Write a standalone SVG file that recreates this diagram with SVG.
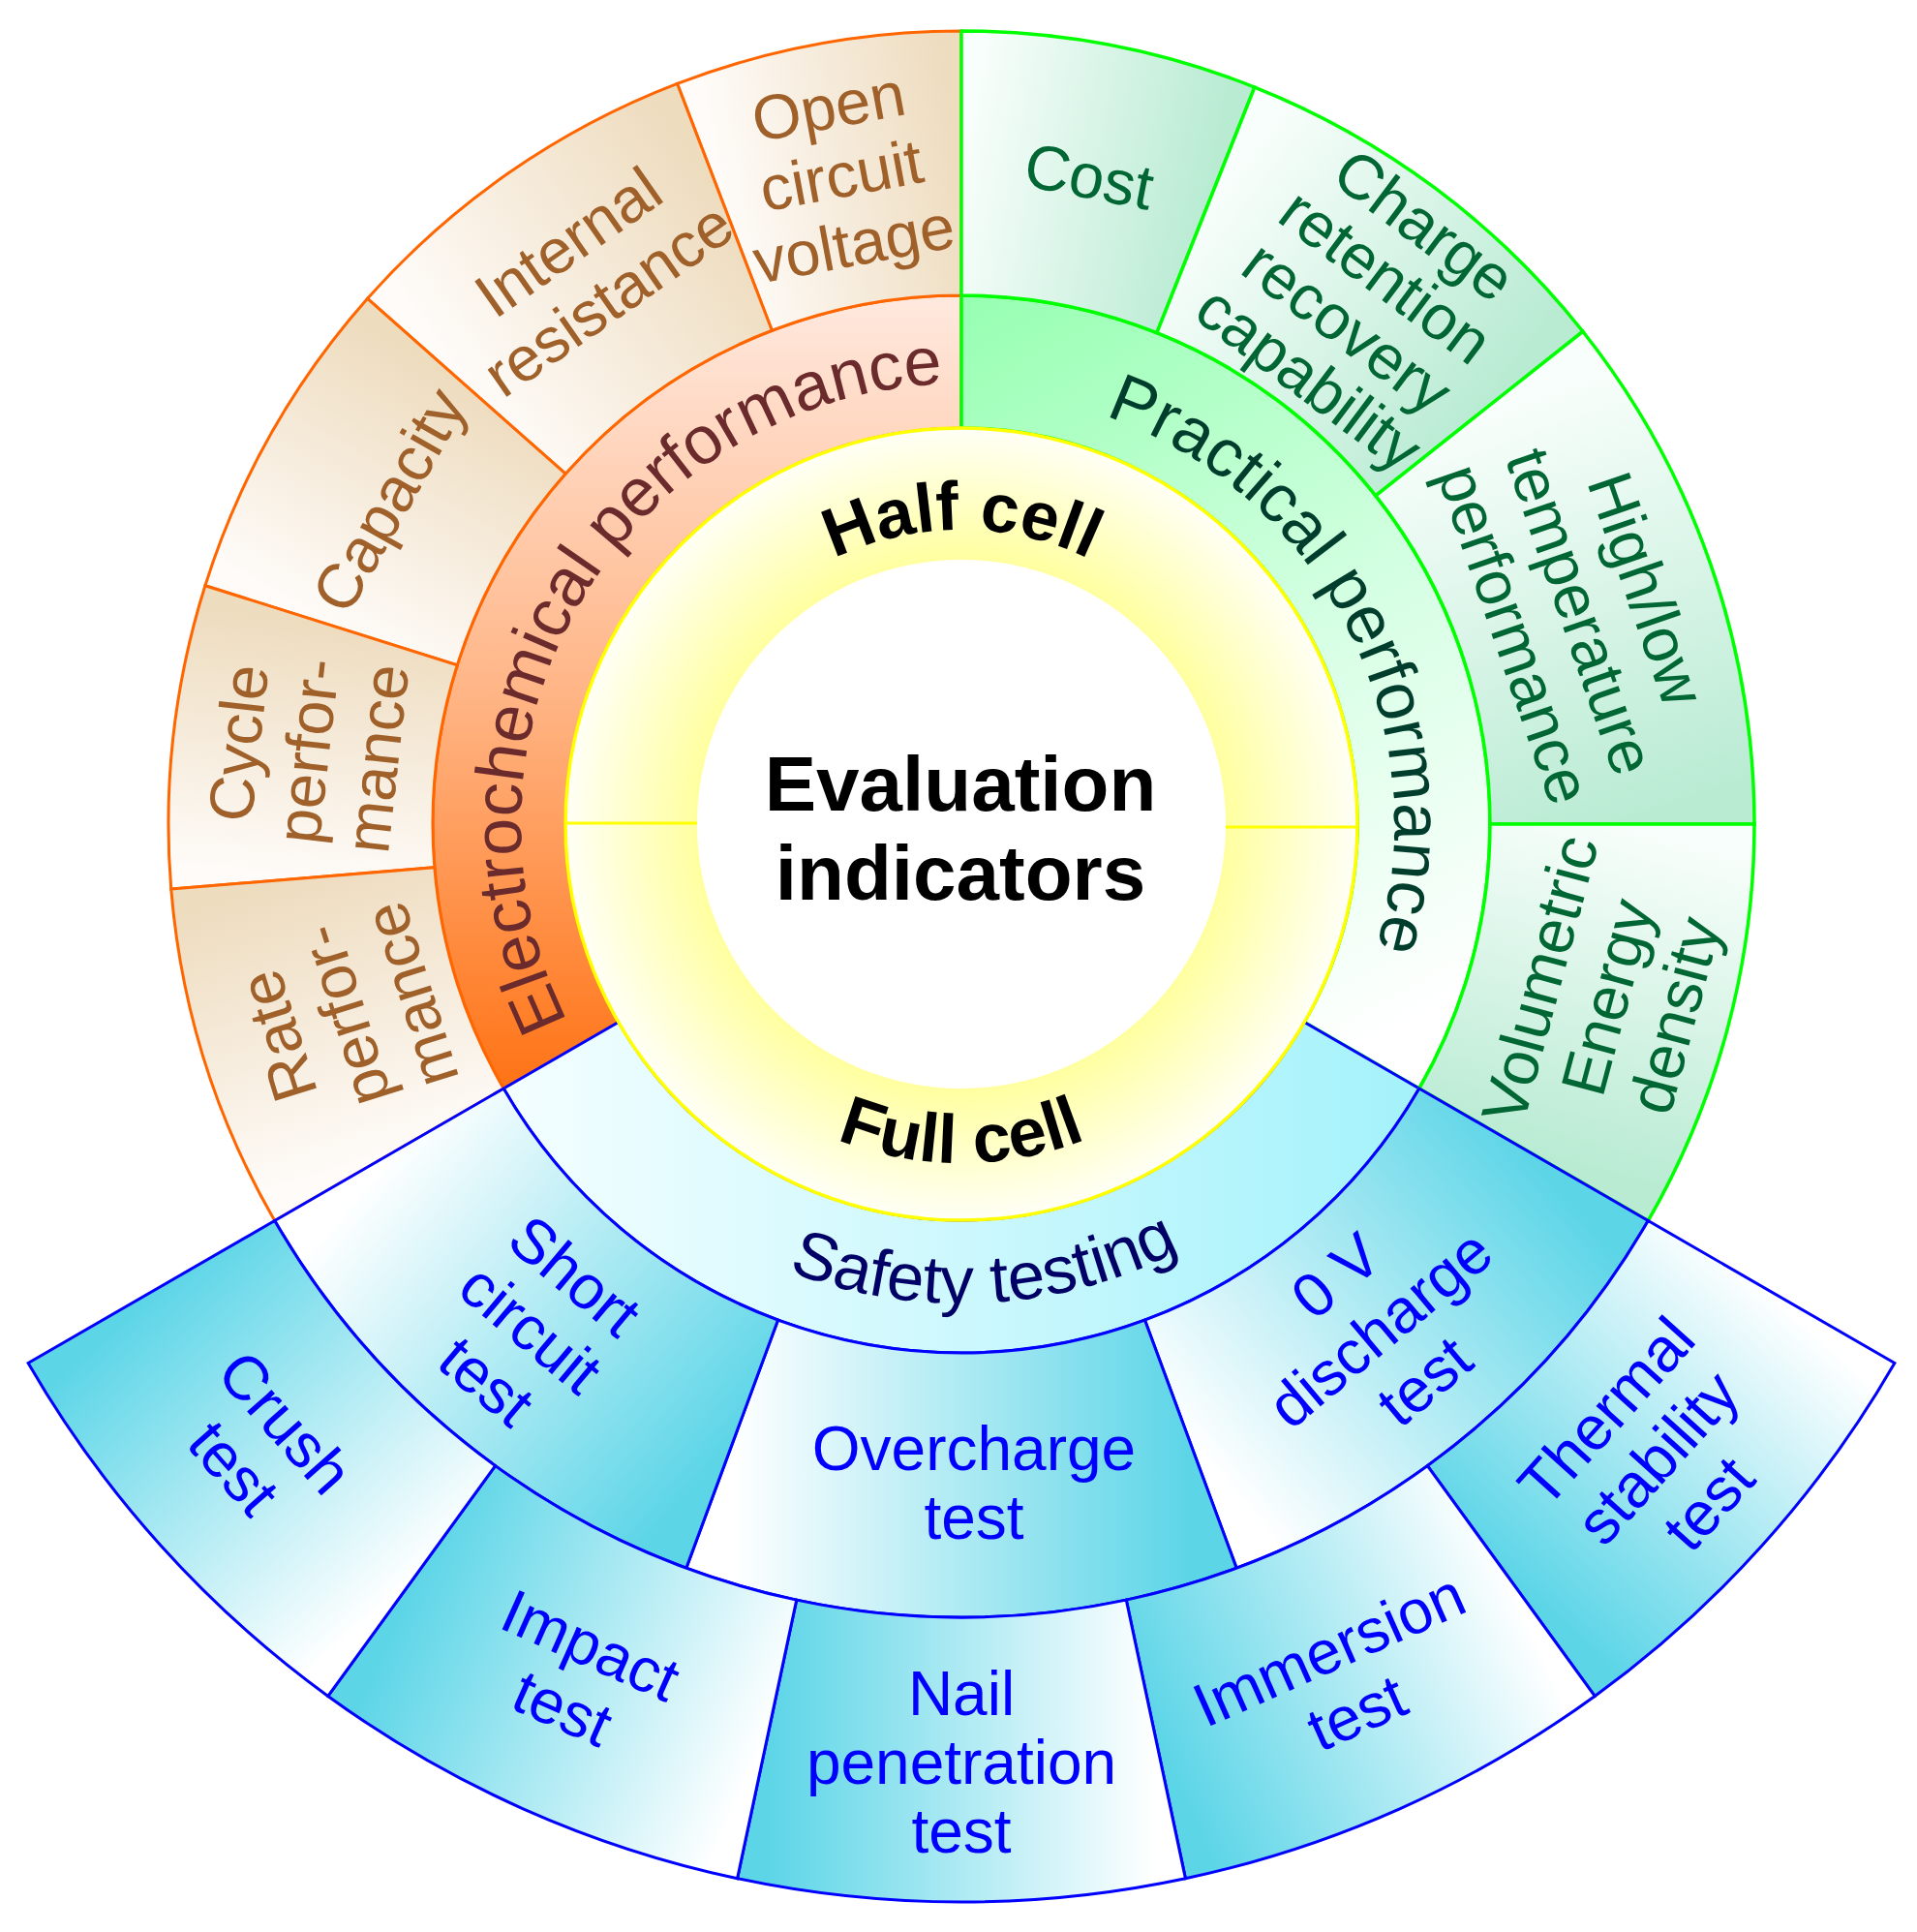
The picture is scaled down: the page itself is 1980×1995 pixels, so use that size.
<svg xmlns="http://www.w3.org/2000/svg" xmlns:xlink="http://www.w3.org/1999/xlink" width="1980" height="1995" viewBox="0 0 1980 1995">
<defs>
<style>
text { font-family: "Liberation Sans", Arial, Helvetica, sans-serif; }
.org { fill: #a0602a; font-size: 65px; text-anchor: middle; }
.grn { fill: #006633; font-size: 65px; text-anchor: middle; }
.blu { fill: #0000ff; font-size: 64px; text-anchor: middle; }
.cell-o { stroke: #ff6600; stroke-width: 3; }
.cell-g { stroke: #00ff00; stroke-width: 3.5; }
.cell-b { stroke: #0000ff; stroke-width: 3; }
.ring { font-size: 70px; }
.core { font-size: 71px; font-weight: bold; fill: #000; }
</style>
<linearGradient id="baseO"><stop offset="0" stop-color="#fefbf8"/><stop offset="1" stop-color="#eedcbf"/></linearGradient>
<linearGradient id="baseG"><stop offset="0" stop-color="#f8fefb"/><stop offset="1" stop-color="#b9ebd3"/></linearGradient>
<linearGradient id="baseC"><stop offset="0" stop-color="#5cd5e7"/><stop offset="1" stop-color="#ffffff"/></linearGradient>
<linearGradient id="baseW"><stop offset="0" stop-color="#ffffff"/><stop offset="1" stop-color="#5cd5e7"/></linearGradient>
<linearGradient id="o1" xlink:href="#baseO" gradientUnits="userSpaceOnUse" x1="748.59" y1="214.3" x2="993" y2="169"/>
<linearGradient id="o2" xlink:href="#baseO" gradientUnits="userSpaceOnUse" x1="482.21" y1="399.09" x2="748.59" y2="214.3"/>
<linearGradient id="o3" xlink:href="#baseO" gradientUnits="userSpaceOnUse" x1="342.57" y1="645.92" x2="482.21" y2="399.09"/>
<linearGradient id="o4" xlink:href="#baseO" gradientUnits="userSpaceOnUse" x1="313.29" y1="906.88" x2="342.57" y2="645.92"/>
<linearGradient id="o5" xlink:href="#baseO" gradientUnits="userSpaceOnUse" x1="402.37" y1="1192" x2="313.29" y2="906.88"/>
<linearGradient id="g1" xlink:href="#baseG" gradientUnits="userSpaceOnUse" x1="993" y1="169" x2="1245.17" y2="217.33"/>
<linearGradient id="g2" xlink:href="#baseG" gradientUnits="userSpaceOnUse" x1="1245.17" y1="217.33" x2="1527.48" y2="427.38"/>
<linearGradient id="g3" xlink:href="#baseG" gradientUnits="userSpaceOnUse" x1="1527.48" y1="427.38" x2="1675" y2="851"/>
<linearGradient id="g4" xlink:href="#baseG" gradientUnits="userSpaceOnUse" x1="1675" y1="851" x2="1583.63" y2="1192"/>
<linearGradient id="b1" xlink:href="#baseC" gradientUnits="userSpaceOnUse" x1="1583.63" y1="1192" x2="1229.61" y2="1490.64"/>
<linearGradient id="b2" xlink:href="#baseC" gradientUnits="userSpaceOnUse" x1="1229.61" y1="1490.64" x2="756.39" y2="1490.64"/>
<linearGradient id="b3" xlink:href="#baseC" gradientUnits="userSpaceOnUse" x1="756.39" y1="1490.64" x2="402.37" y2="1192"/>
<linearGradient id="c1" xlink:href="#baseW" gradientUnits="userSpaceOnUse" x1="1829.58" y1="1334" x2="1560.8" y2="1632.51"/>
<linearGradient id="c2" xlink:href="#baseW" gradientUnits="userSpaceOnUse" x1="1560.8" y1="1632.51" x2="1193.84" y2="1795.89"/>
<linearGradient id="c3" xlink:href="#baseW" gradientUnits="userSpaceOnUse" x1="1193.84" y1="1795.89" x2="792.16" y2="1795.89"/>
<linearGradient id="c4" xlink:href="#baseW" gradientUnits="userSpaceOnUse" x1="792.16" y1="1795.89" x2="425.2" y2="1632.51"/>
<linearGradient id="c5" xlink:href="#baseW" gradientUnits="userSpaceOnUse" x1="425.2" y1="1632.51" x2="156.42" y2="1334"/>
<linearGradient id="gE" gradientUnits="userSpaceOnUse" x1="0" y1="305" x2="0" y2="1124"><stop offset="0" stop-color="#ffe9df"/><stop offset="0.5" stop-color="#ffb586"/><stop offset="1" stop-color="#ff7315"/></linearGradient>
<linearGradient id="gP" gradientUnits="userSpaceOnUse" x1="993" y1="305" x2="1420" y2="1080"><stop offset="0" stop-color="#96ffb1"/><stop offset="0.55" stop-color="#d6ffe4"/><stop offset="1" stop-color="#ffffff"/></linearGradient>
<linearGradient id="gS" gradientUnits="userSpaceOnUse" x1="520" y1="0" x2="1466" y2="0"><stop offset="0" stop-color="#f4feff"/><stop offset="1" stop-color="#a4f2fb"/></linearGradient>
<radialGradient id="gY" gradientUnits="userSpaceOnUse" cx="993" cy="851" r="409"><stop offset="0.667" stop-color="#ffffa0"/><stop offset="1" stop-color="#fffff6"/></radialGradient>
<path id="pHalf" d="M 693.62,798.21 A 304 304 0 0 1 1292.38,798.21"/>
<path id="pFull" d="M 648.32,911.78 A 350 350 0 0 0 1337.68,911.78"/>
<path id="pElec" d="M 697.5,1196.98 A 455 455 0 0 1 1152.34,424.81"/>
<path id="pPrac" d="M 862.31,423.53 A 447 447 0 0 1 1262.02,1207.99"/>
<path id="pSafe" d="M 510.69,962.35 A 495 495 0 0 0 1484.31,911.33"/>
</defs>

<g id="electrochemical">
<path d="M 638.8,1055.5 L 520.15,1124 A 546 546 0 0 1 993,305 L 993,442 A 409 409 0 0 0 638.8,1055.5 Z" fill="url(#gE)" class="cell-o"/>
<text class="ring" fill="#6b2a2b" text-anchor="middle"><textPath xlink:href="#pElec" startOffset="50%">Electrochemical performance</textPath></text>
</g>
<g id="practical">
<path d="M 993,442 L 993,305 A 546 546 0 0 1 1465.85,1124 L 1347.2,1055.5 A 409 409 0 0 0 993,442 Z" fill="url(#gP)" class="cell-g"/>
<text class="ring" fill="#003d2c" text-anchor="middle"><textPath xlink:href="#pPrac" startOffset="50%">Practical performance</textPath></text>
</g>
<g id="safety">
<path d="M 1347.2,1055.5 L 1465.85,1124 A 546 546 0 0 1 520.15,1124 L 638.8,1055.5 A 409 409 0 0 0 1347.2,1055.5 Z" fill="url(#gS)" class="cell-b"/>
<text style="font-size:69px" fill="#000066" text-anchor="middle"><textPath xlink:href="#pSafe" startOffset="50%">Safety testing</textPath></text>
</g>

<g id="cell-ring">
<circle cx="993" cy="851" r="409" fill="url(#gY)" stroke="#ffff00" stroke-width="3.5"/>
<line x1="584" y1="850" x2="722" y2="850" stroke="#ffff00" stroke-width="3"/>
<line x1="1264" y1="854" x2="1402" y2="854" stroke="#ffff00" stroke-width="3"/>
<text class="core" text-anchor="middle"><textPath xlink:href="#pHalf" startOffset="50%">Half cell</textPath></text>
<text class="core" text-anchor="middle"><textPath xlink:href="#pFull" startOffset="50%">Full cell</textPath></text>
</g>

<g id="center">
<circle cx="993" cy="851" r="273" fill="#ffffff"/>
<text x="992" y="837" font-size="80" font-weight="bold" text-anchor="middle" fill="#000">Evaluation</text>
<text x="992" y="929" font-size="80" font-weight="bold" text-anchor="middle" fill="#000">indicators</text>
</g>

<g id="open-circuit-voltage">
<path d="M 797.33,341.27 L 699.5,86.4 A 819 819 0 0 1 993,32 L 993,305 A 546 546 0 0 0 797.33,341.27 Z" fill="url(#o1)" class="cell-o"/>
<text class="org" transform="translate(868.7,180.4) rotate(-10.5)"><tspan x="0" y="-49">Open</tspan><tspan x="0" y="23">circuit</tspan><tspan x="0" y="95">voltage</tspan></text>
</g>
<g id="internal-resistance">
<path d="M 584.07,489.21 L 379.6,308.31 A 819 819 0 0 1 699.5,86.4 L 797.33,341.27 A 546 546 0 0 0 584.07,489.21 Z" fill="url(#o2)" class="cell-o"/>
<text class="org" transform="translate(607.2,279) rotate(-35)"><tspan x="0" y="-13">Internal</tspan><tspan x="0" y="59">resistance</tspan></text>
</g>
<g id="capacity">
<path d="M 472.27,686.81 L 211.91,604.72 A 819 819 0 0 1 379.6,308.31 L 584.07,489.21 A 546 546 0 0 0 472.27,686.81 Z" fill="url(#o3)" class="cell-o"/>
<text class="org" transform="translate(401.2,516.2) rotate(-60.5)"><tspan x="0" y="23">Capacity</tspan></text>
</g>
<g id="cycle-performance">
<path d="M 448.84,895.74 L 176.75,918.11 A 819 819 0 0 1 211.91,604.72 L 472.27,686.81 A 546 546 0 0 0 448.84,895.74 Z" fill="url(#o4)" class="cell-o"/>
<text class="org" transform="translate(317.2,775.2) rotate(-83.6)"><tspan x="0" y="-49">Cycle</tspan><tspan x="0" y="23">perfor-</tspan><tspan x="0" y="95">mance</tspan></text>
</g>
<g id="rate-performance">
<path d="M 520.15,1124 L 283.73,1260.5 A 819 819 0 0 1 176.75,918.11 L 448.84,895.74 A 546 546 0 0 0 520.15,1124 Z" fill="url(#o5)" class="cell-o"/>
<text class="org" transform="translate(354.9,1048.5) rotate(-107.2)"><tspan x="0" y="-49">Rate</tspan><tspan x="0" y="23">perfor-</tspan><tspan x="0" y="95">mance</tspan></text>
</g>

<g id="cost">
<path d="M 993,305 L 993,32 A 819 819 0 0 1 1295.82,90.04 L 1194.88,343.69 A 546 546 0 0 0 993,305 Z" fill="url(#g1)" class="cell-g"/>
<text class="grn" transform="translate(1125,181.5) rotate(11)"><tspan x="0" y="23">Cost</tspan></text>
</g>
<g id="charge-retention">
<path d="M 1194.88,343.69 L 1295.82,90.04 A 819 819 0 0 1 1634.85,342.28 L 1420.9,511.85 A 546 546 0 0 0 1194.88,343.69 Z" fill="url(#g2)" class="cell-g"/>
<text class="grn" transform="translate(1412,311) rotate(37)"><tspan x="0" y="-76">Charge</tspan><tspan x="0" y="-10">retention</tspan><tspan x="0" y="56">recovery</tspan><tspan x="0" y="122">capability</tspan></text>
</g>
<g id="high-low-temperature">
<path d="M 1420.9,511.85 L 1634.85,342.28 A 819 819 0 0 1 1812,851 L 1539,851 A 546 546 0 0 0 1420.9,511.85 Z" fill="url(#g3)" class="cell-g"/>
<text class="grn" transform="translate(1633,631.2) rotate(71)"><tspan x="0" y="-49">High/low</tspan><tspan x="0" y="23">temperature</tspan><tspan x="0" y="95">performance</tspan></text>
</g>
<g id="volumetric-energy-density">
<path d="M 1539,851 L 1812,851 A 819 819 0 0 1 1702.27,1260.5 L 1465.85,1124 A 546 546 0 0 0 1539,851 Z" fill="url(#g4)" class="cell-g"/>
<text class="grn" transform="translate(1659.5,1029.6) rotate(-75)"><tspan x="0" y="-49">Volumetric</tspan><tspan x="0" y="23">Energy</tspan><tspan x="0" y="95">density</tspan></text>
</g>

<g id="zero-v-discharge">
<path d="M 1465.85,1124 L 1702.27,1260.5 A 819 819 0 0 1 1277.14,1619.13 L 1182.43,1363.09 A 546 546 0 0 0 1465.85,1124 Z" fill="url(#b1)" class="cell-b"/>
<text class="blu" transform="translate(1425.5,1371.9) rotate(-40)"><tspan x="0" y="-49">0 V</tspan><tspan x="0" y="22">discharge</tspan><tspan x="0" y="93">test</tspan></text>
</g>
<g id="overcharge">
<path d="M 1182.43,1363.09 L 1277.14,1619.13 A 819 819 0 0 1 708.86,1619.13 L 803.57,1363.09 A 546 546 0 0 0 1182.43,1363.09 Z" fill="url(#b2)" class="cell-b"/>
<text class="blu" transform="translate(1006,1531)"><tspan x="0" y="-13.5">Overcharge</tspan><tspan x="0" y="57.5">test</tspan></text>
</g>
<g id="short-circuit">
<path d="M 803.57,1363.09 L 708.86,1619.13 A 819 819 0 0 1 283.73,1260.5 L 520.15,1124 A 546 546 0 0 0 803.57,1363.09 Z" fill="url(#b3)" class="cell-b"/>
<text class="blu" transform="translate(548.1,1371.9) rotate(40)"><tspan x="0" y="-49">Short</tspan><tspan x="0" y="22">circuit</tspan><tspan x="0" y="93">test</tspan></text>
</g>

<g id="thermal-stability">
<path d="M 1702.27,1260.5 L 1956.89,1407.5 A 1113 1113 0 0 1 1647.2,1751.44 L 1474.4,1513.6 A 819 819 0 0 0 1702.27,1260.5 Z" fill="url(#c1)" class="cell-b"/>
<text class="blu" transform="translate(1711.9,1505.2) rotate(-48)"><tspan x="0" y="-49">Thermal</tspan><tspan x="0" y="22">stability</tspan><tspan x="0" y="93">test</tspan></text>
</g>
<g id="immersion">
<path d="M 1474.4,1513.6 L 1647.2,1751.44 A 1113 1113 0 0 1 1224.41,1939.68 L 1163.28,1652.1 A 819 819 0 0 0 1474.4,1513.6 Z" fill="url(#c2)" class="cell-b"/>
<text class="blu" transform="translate(1387.1,1736.2) rotate(-24)"><tspan x="0" y="-13.5">Immersion</tspan><tspan x="0" y="57.5">test</tspan></text>
</g>
<g id="nail-penetration">
<path d="M 1163.28,1652.1 L 1224.41,1939.68 A 1113 1113 0 0 1 761.59,1939.68 L 822.72,1652.1 A 819 819 0 0 0 1163.28,1652.1 Z" fill="url(#c3)" class="cell-b"/>
<text class="blu" transform="translate(993,1820)"><tspan x="0" y="-49">Nail</tspan><tspan x="0" y="22">penetration</tspan><tspan x="0" y="93">test</tspan></text>
</g>
<g id="impact">
<path d="M 822.72,1652.1 L 761.59,1939.68 A 1113 1113 0 0 1 338.8,1751.44 L 511.6,1513.6 A 819 819 0 0 0 822.72,1652.1 Z" fill="url(#c4)" class="cell-b"/>
<text class="blu" transform="translate(595.5,1731.4) rotate(24)"><tspan x="0" y="-13.5">Impact</tspan><tspan x="0" y="57.5">test</tspan></text>
</g>
<g id="crush">
<path d="M 511.6,1513.6 L 338.8,1751.44 A 1113 1113 0 0 1 29.11,1407.5 L 283.73,1260.5 A 819 819 0 0 0 511.6,1513.6 Z" fill="url(#c5)" class="cell-b"/>
<text class="blu" transform="translate(268,1492.4) rotate(48.5)"><tspan x="0" y="-13.5">Crush</tspan><tspan x="0" y="57.5">test</tspan></text>
</g>
<g id="connectors"/>
</svg>
